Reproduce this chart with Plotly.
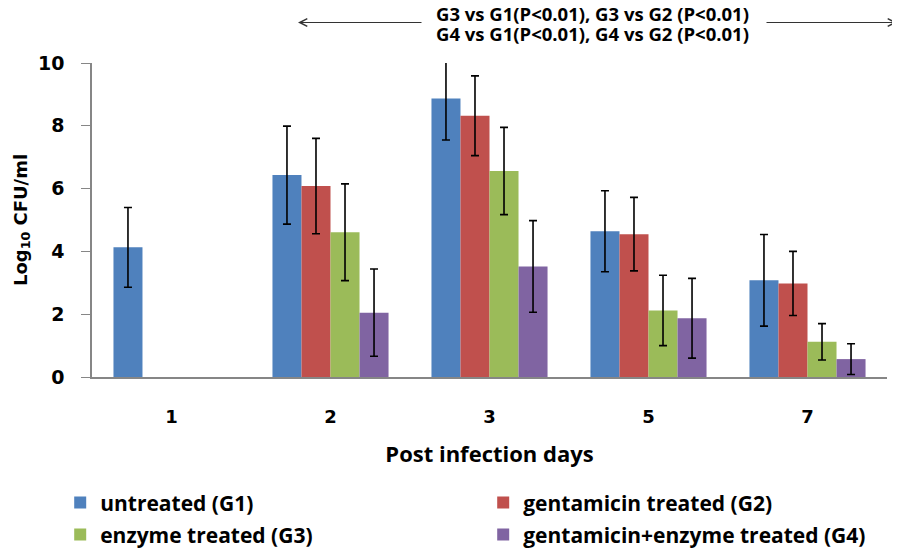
import plotly.graph_objects as go

days = ["1", "2", "3", "5", "7"]
groups = ["untreated (G1)", "gentamicin treated (G2)", "enzyme treated (G3)", "gentamicin+enzyme treated (G4)"]
colors = ["#4F81BD", "#C0504D", "#9BBB59", "#8064A2"]

g1 = [4.13, 6.43, 8.87, 4.64, 3.08]
g2 = [None, 6.08, 8.32, 4.55, 2.98]
g3 = [None, 4.61, 6.56, 2.12, 1.12]
g4 = [None, 2.05, 3.52, 1.87, 0.57]
g1_err = [1.27, 1.56, 1.32, 1.29, 1.46]
g2_err = [None, 1.52, 1.27, 1.17, 1.02]
g3_err = [None, 1.54, 1.39, 1.12, 0.58]
g4_err = [None, 1.39, 1.46, 1.27, 0.49]

sig_lines = ["G3 vs G1(P&lt;0.01), G3 vs G2 (P&lt;0.01)",
             "G4 vs G1(P&lt;0.01), G4 vs G2 (P&lt;0.01)"]

values = [g1, g2, g3, g4]
errors = [g1_err, g2_err, g3_err, g4_err]
legend_ids = ["legend", "legend", "legend2", "legend2"]

NARROW = "Liberation Sans Narrow, Open Sans, sans-serif"
HEAVY = "DejaVu Sans, Verdana, sans-serif"

fig = go.Figure()
for name, vals, errs, col, lg in zip(groups, values, errors, colors, legend_ids):
    fig.add_trace(go.Bar(
        x=days, y=vals, name=name, legend=lg,
        marker=dict(color=col, line=dict(width=0)),
        error_y=dict(type="data", array=errs, visible=True, color="black",
                     thickness=1.6, width=4),
    ))

legend_font = dict(family=NARROW, size=21, color="black", weight="bold")
# the page adds an 8px body margin, so the figure is 8px smaller than the window
fig.update_layout(
    width=892, height=548,
    margin=dict(l=84, r=13, t=55, b=179, autoexpand=False),
    plot_bgcolor="white", paper_bgcolor="white",
    barmode="group", bargap=0.27, bargroupgap=0,
    showlegend=True,
    legend=dict(orientation="h", x=-0.04, xanchor="left", y=-0.401, yanchor="middle",
                entrywidth=378, entrywidthmode="pixels", font=legend_font,
                bgcolor="rgba(0,0,0,0)"),
    legend2=dict(orientation="h", x=-0.04, xanchor="left", y=-0.503, yanchor="middle",
                 entrywidth=378, entrywidthmode="pixels", font=legend_font,
                 bgcolor="rgba(0,0,0,0)"),
    xaxis=dict(
        type="category", showline=True, linecolor="#868686", linewidth=1.5,
        ticks="", showgrid=False, ticklabelstandoff=23, automargin=False,
        tickfont=dict(family=HEAVY, size=18, color="black", weight="bold"),
        title=dict(text="Post infection days", standoff=20,
                   font=dict(family=NARROW, size=22, color="black", weight="bold")),
    ),
    yaxis=dict(
        range=[0, 10], tickvals=[0, 2, 4, 6, 8, 10], automargin=False,
        showline=True, linecolor="#868686", linewidth=1.5,
        ticks="outside", ticklen=9, tickcolor="#868686", tickwidth=1,
        showgrid=False, zeroline=False, ticklabelstandoff=13,
        tickfont=dict(family=HEAVY, size=19, color="black", weight="bold"),
        title=dict(text="Log<sub>10</sub> CFU/ml", standoff=6,
                   font=dict(family=HEAVY, size=18, color="black", weight="bold")),
    ),
)

# significance annotation (two lines) with double-headed arrow
for line_text, ypos in zip(sig_lines, [(377 - 13) / 314, (377 - 33) / 314]):
    fig.add_annotation(
        xref="paper", yref="paper", x=0.629, y=ypos, yanchor="middle",
        text=line_text, showarrow=False, align="center",
        font=dict(family=NARROW, size=18.5, color="black", weight="bold"),
    )
fig.add_annotation(
    xref="paper", yref="paper", x=(298 - 92) / 795, y=(377 - 22.5) / 314, ax=125, ay=0,
    text="", showarrow=True, arrowhead=5, arrowsize=1.5, arrowwidth=1, arrowcolor="#333333",
)
fig.add_annotation(
    xref="paper", yref="paper", x=(897 - 92) / 795, y=(377 - 22.5) / 314, ax=-132, ay=0,
    text="", showarrow=True, arrowhead=5, arrowsize=1.5, arrowwidth=1, arrowcolor="#333333",
)

fig.write_html("out.html")
